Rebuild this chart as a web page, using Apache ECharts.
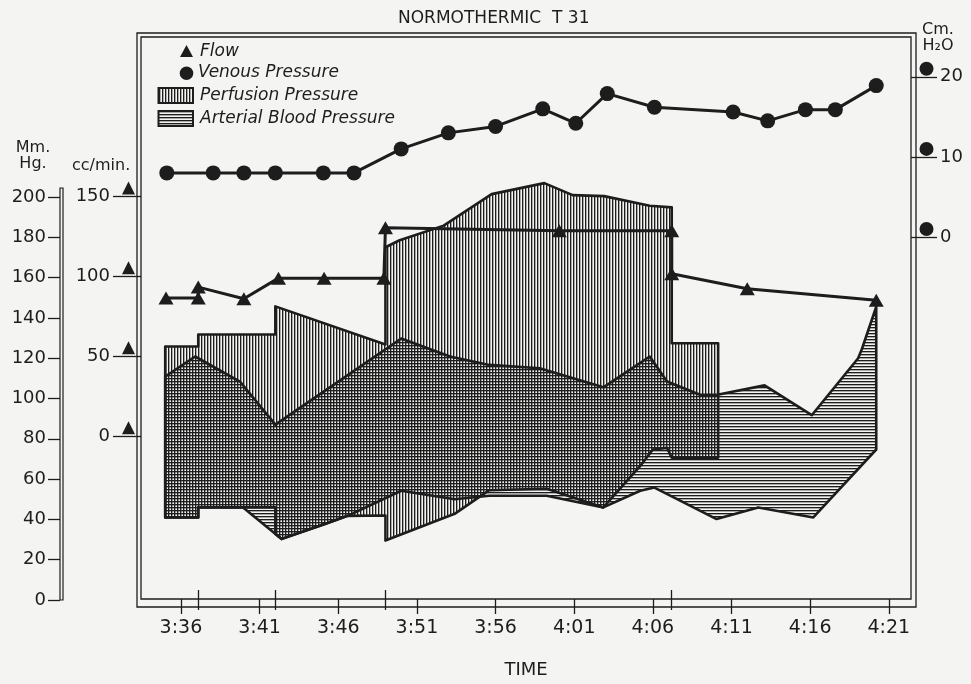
<!DOCTYPE html>
<html>
<head>
<meta charset="utf-8">
<title>Normothermic T 31</title>
<script src="https://cdn.jsdelivr.net/npm/echarts@6/dist/echarts.min.js"></script>
<style>
  html, body { margin: 0; padding: 0; background: #f4f4f2; }
  #chart { width: 971px; height: 684px; }
</style>
</head>
<body>
<div id="chart"></div>
<script>
// all times are minutes after 3:00
const timeTicks = [36, 41, 46, 51, 56, 61, 66, 71, 76, 81];
const eventTicks = [37.1, 42, 49, 67.2];

const mmHgTicks = [0, 20, 40, 60, 80, 100, 120, 140, 160, 180, 200];
const ccTicks = [0, 50, 100, 150];
const cmTicks = [0, 10, 20];

// venous pressure, cm H2O
const venousTime = [35.1, 38.05, 40.0, 42.0, 45.05, 47.0, 50.0, 53.0, 56.0, 59.0, 61.1, 63.1, 66.1, 71.1, 73.3, 75.7, 77.6, 80.2];
const venousCm = [8.0, 8.0, 8.0, 8.0, 8.0, 8.0, 11.0, 13.0, 13.8, 16.0, 14.2, 17.9, 16.2, 15.6, 14.5, 15.9, 15.9, 18.9];

// flow, cc/min
const flowTime = [35.05, 37.1, 37.1, 40.0, 42.2, 45.1, 48.9, 49.0, 60.05, 67.2, 67.2, 72.0, 80.2];
const flowCc = [86.5, 86.5, 93.3, 86.0, 98.9, 98.9, 98.9, 130.5, 128.6, 128.6, 101.6, 92.3, 85.0];

// perfusion pressure band, mm Hg  [time, value]
const perfUpper = [[35.0, 125], [37.1, 125], [37.1, 131], [42.0, 131], [42.0, 145], [49.0, 126], [49.0, 174.5],
  [49.9, 178], [52.7, 185.3], [55.75, 201], [59.1, 206.5], [60.9, 200.5], [62.9, 200], [65.8, 195.2],
  [67.2, 194.4], [67.2, 126.6], [70.15, 126.6]];
const perfLower = [[35.0, 39.7], [37.1, 39.7], [37.1, 44.7], [42.0, 44.7], [42.0, 31.5], [42.4, 29], [45.15, 36.4],
  [46.6, 40.5], [49.0, 40.7], [49.0, 28.2], [53.4, 41.5], [55.6, 53.3], [59.25, 54], [62.85, 44.7],
  [65.2, 65.4], [66.0, 73.6], [66.9, 74.4], [67.2, 69.5], [70.15, 69.5]];

// arterial blood pressure band, mm Hg
const artUpper = [[35.0, 110], [36.9, 120], [39.75, 107.5], [42.0, 86], [50.0, 129], [53.1, 120], [55.6, 115.8],
  [58.8, 114.1], [62.85, 104.6], [65.8, 120], [66.9, 107.5], [69.0, 100.9], [70.1, 100.9], [73.1, 105.6],
  [76.1, 90.7], [79.05, 119.1], [79.3, 124], [80.2, 144.8]];
const artLower = [[35.0, 39.7], [37.1, 39.7], [37.1, 44.7], [39.95, 44.7], [42.4, 28.9], [45.15, 36.4], [46.6, 40.5],
  [50.0, 53], [53.4, 48.8], [55.6, 50.5], [59.25, 50.5], [62.85, 44.7], [65.2, 53], [66.1, 54.6],
  [70.05, 38.9], [72.7, 44.7], [76.2, 39.7], [80.2, 73.6]];

const ink = '#1d1d1d';
const font = 'DejaVu Sans';

function zip(a, b) {
  return a.map((v, i) => [v, b[i]]);
}

function clock(m) {
  const h = 3 + Math.floor(m / 60);
  const mm = Math.round(m % 60);
  return h + ':' + (mm < 10 ? '0' + mm : mm);
}

// small canvas used as a repeating hatch
function hatch(vertical) {
  const c = document.createElement('canvas');
  c.width = 3;
  c.height = 3;
  const ctx = c.getContext('2d');
  ctx.fillStyle = ink;
  if (vertical) ctx.fillRect(0, 0, 1, 3); else ctx.fillRect(0, 0, 3, 1);
  ctx.fillStyle = 'rgba(29,29,29,0.35)';
  if (vertical) ctx.fillRect(1, 0, 1, 3); else ctx.fillRect(0, 1, 3, 1);
  return c;
}
const vHatch = hatch(true);
const hHatch = hatch(false);

function band(name, upper, lower, pattern, z) {
  return {
    type: 'custom',
    name: name,
    xAxisIndex: 0,
    yAxisIndex: 0,
    z: z,
    data: [upper[0]],
    renderItem: function (params, api) {
      const pts = upper.concat(lower.slice().reverse()).map(p => api.coord(p));
      return {
        type: 'polygon',
        shape: { points: pts },
        style: { fill: { image: pattern, repeat: 'repeat' }, stroke: ink, lineWidth: 2.6, lineJoin: 'round' }
      };
    }
  };
}

const xMin = 33.46, xMax = 82.41;
const tickStyle = { color: ink, width: 1.3 };
const labelStyle = { color: ink, fontFamily: font };

const chart = echarts.init(document.getElementById('chart'));

const option = {
  backgroundColor: '#f4f4f2',
  animation: false,
  title: {
    text: 'NORMOTHERMIC  T 31',
    left: 393,
    top: 5,
    textStyle: { color: ink, fontFamily: font, fontSize: 17, fontWeight: 'normal' }
  },
  grid: [
    { left: 141, right: 60, top: 37, bottom: 82, show: true, borderColor: ink, borderWidth: 1.3, backgroundColor: 'transparent' },
    { left: 60, width: 3, top: 188, bottom: 84, show: true, borderColor: ink, borderWidth: 1.2, backgroundColor: 'transparent' },
    { left: 137, right: 55, top: 33, bottom: 77, show: true, borderColor: ink, borderWidth: 1.3, backgroundColor: 'transparent' }
  ],
  xAxis: [
    {
      gridIndex: 0, type: 'value', position: 'bottom', min: xMin, max: xMax,
      axisLine: { show: false, onZero: false }, splitLine: { show: false },
      axisTick: { customValues: timeTicks, length: 15, lineStyle: tickStyle },
      axisLabel: Object.assign({ customValues: timeTicks, formatter: clock, fontSize: 19, margin: 20 }, labelStyle),
      name: 'TIME', nameLocation: 'middle', nameGap: 62,
      nameTextStyle: { color: ink, fontFamily: font, fontSize: 18 }
    },
    {
      gridIndex: 0, type: 'value', position: 'bottom', offset: -9, min: xMin, max: xMax,
      axisLine: { show: false, onZero: false }, splitLine: { show: false },
      axisTick: { customValues: eventTicks, length: 20, lineStyle: tickStyle },
      axisLabel: { show: false }
    },
    { gridIndex: 1, type: 'value', show: false },
    { gridIndex: 2, type: 'value', show: false }
  ],
  yAxis: [
    { gridIndex: 0, type: 'value', position: 'left', min: -0.99, max: 279.4, show: false },
    {
      gridIndex: 0, type: 'value', position: 'left', min: -101.9, max: 249.8,
      axisLine: { show: false, onZero: false }, splitLine: { show: false },
      axisTick: { customValues: ccTicks, length: 28, lineStyle: tickStyle },
      axisLabel: Object.assign({ customValues: ccTicks, fontSize: 18, margin: 31 }, labelStyle)
    },
    {
      gridIndex: 0, type: 'value', position: 'right', min: -45.2, max: 24.97,
      axisLine: { show: false, onZero: false }, splitLine: { show: false },
      axisTick: { customValues: cmTicks, length: 26, lineStyle: tickStyle },
      axisLabel: Object.assign({ customValues: cmTicks, fontSize: 18, margin: 29 }, labelStyle)
    },
    {
      gridIndex: 1, type: 'value', position: 'left', min: 0, max: 204.5,
      axisLine: { show: false, onZero: false }, splitLine: { show: false },
      axisTick: { customValues: mmHgTicks, length: 12, lineStyle: tickStyle },
      axisLabel: Object.assign({ customValues: mmHgTicks, fontSize: 18, margin: 14 }, labelStyle)
    },
    { gridIndex: 2, type: 'value', show: false }
  ],
  series: [
    band('Perfusion Pressure', perfUpper, perfLower, vHatch, 2),
    band('Arterial Blood Pressure', artUpper, artLower, hHatch, 3),
    {
      type: 'line', name: 'Flow', xAxisIndex: 0, yAxisIndex: 1, z: 5,
      data: zip(flowTime, flowCc),
      symbol: 'triangle', symbolSize: [15, 13], showAllSymbol: true,
      lineStyle: { color: ink, width: 3 }, itemStyle: { color: ink }
    },
    {
      type: 'line', name: 'Venous Pressure', xAxisIndex: 0, yAxisIndex: 2, z: 5,
      data: zip(venousTime, venousCm),
      symbol: 'circle', symbolSize: 15, showAllSymbol: true,
      lineStyle: { color: ink, width: 3 }, itemStyle: { color: ink }
    }
  ]
};

chart.setOption(option);

// legend, axis titles and the small key symbols beside the axes
const italic = { fill: ink, font: 'italic 17px "' + font + '"', verticalAlign: 'middle' };
const graphic = [
  { type: 'polygon', shape: { points: [[180, 57], [193, 57], [186.5, 45]] }, style: { fill: ink } },
  { type: 'text', x: 200, y: 52, style: Object.assign({ text: 'Flow' }, italic) },
  { type: 'circle', shape: { cx: 186.5, cy: 73.3, r: 6.8 }, style: { fill: ink } },
  { type: 'text', x: 198, y: 73, style: Object.assign({ text: 'Venous Pressure' }, italic) },
  { type: 'rect', shape: { x: 158.5, y: 88, width: 34.5, height: 15 }, style: { fill: { image: vHatch, repeat: 'repeat' }, stroke: ink, lineWidth: 2 } },
  { type: 'text', x: 200, y: 95.5, style: Object.assign({ text: 'Perfusion Pressure' }, italic) },
  { type: 'rect', shape: { x: 158.5, y: 111, width: 34.5, height: 15 }, style: { fill: { image: hHatch, repeat: 'repeat' }, stroke: ink, lineWidth: 2 } },
  { type: 'text', x: 200, y: 118.5, style: Object.assign({ text: 'Arterial Blood Pressure' }, italic) },
  { type: 'text', x: 33, y: 140, style: { text: 'Mm.\nHg.', fill: ink, font: '16px "' + font + '"', align: 'center', lineHeight: 16 } },
  { type: 'text', x: 72, y: 158, style: { text: 'cc/min.', fill: ink, font: '16px "' + font + '"' } },
  { type: 'text', x: 938, y: 22, style: { text: 'Cm.\nH\u2082O', fill: ink, font: '16px "' + font + '"', align: 'center', lineHeight: 16 } }
];
ccTicks.forEach(v => {
  const y = chart.convertToPixel({ yAxisIndex: 1 }, v);
  graphic.push({ type: 'polygon', shape: { points: [[122, y - 2], [135, y - 2], [128.5, y - 15]] }, style: { fill: ink } });
});
cmTicks.forEach(v => {
  const y = chart.convertToPixel({ yAxisIndex: 2 }, v);
  graphic.push({ type: 'circle', shape: { cx: 926.5, cy: y - 8, r: 7 }, style: { fill: ink } });
});
chart.setOption({ graphic: graphic });
</script>
</body>
</html>
